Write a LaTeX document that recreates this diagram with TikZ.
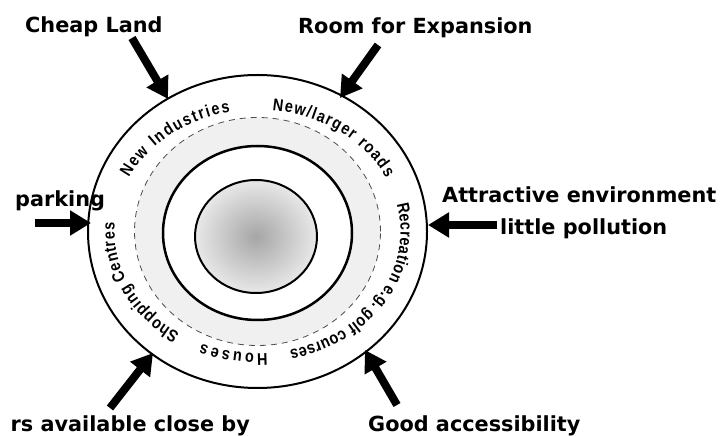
\documentclass[tikz,border=0pt]{standalone}
\usepackage{fontspec}
\setmainfont{DejaVu Sans}
\newfontfamily\ringfont{Liberation Sans}[FakeStretch=0.85]
\newcommand\ringsize{\ringfont\bfseries\fontsize{17}{19}\selectfont}
\usetikzlibrary{arrows.meta,decorations.text}
\begin{document}
\begin{tikzpicture}[x=1pt,y=1pt,
  lbl/.style={font=\fontsize{20.8}{24}\selectfont\bfseries, inner sep=0pt},
  bigarrow/.style={line width=8pt, -{Triangle[length=21pt,width=24pt]}},
  ringtext/.style={font=\ringsize,
     decorate, decoration={text along path, text align=fit to path,
     text={|\ringsize|#1}}}
]
\fill[white] (0,0) rectangle (720,436);
\useasboundingbox (0,0) rectangle (720,436);

\coordinate (C) at (257.5,204.5);
\coordinate (Cm) at (257.5,203);
\coordinate (Ci) at (256,199.5);

% light grey ring between dashed ring and middle ring
\fill[gray!12, even odd rule] (C) ellipse[x radius=123, y radius=114]
      (Cm) ellipse[x radius=94.5, y radius=87];
% dashed ring
\draw[line width=0.8pt, dash pattern=on 6pt off 5pt, gray!60!black] (C) ellipse[x radius=123, y radius=114];
% outer ring
\draw[line width=2pt] (C) ellipse[x radius=169.5, y radius=156.5];
% middle ring
\draw[line width=2.5pt] (Cm) ellipse[x radius=94.5, y radius=87];
% centre
\shade[inner color=gray!70, outer color=gray!18] (Ci) ellipse[x radius=61, y radius=56.5];
\draw[line width=2pt] (Ci) ellipse[x radius=61, y radius=56.5];

% ring labels
\path[ringtext={New Industries}] (C) ++(154:143 and 122)
   arc[start angle=154, end angle=101, x radius=143, y radius=122];
\path[ringtext={New/larger roads}] (C) ++(84:143 and 122)
   arc[start angle=84, end angle=26, x radius=143, y radius=122];
\path[ringtext={Recreation e.g. golf courses}] (C) ++(13:143 and 122)
   arc[start angle=13, end angle=-77, x radius=143, y radius=122];
\path[ringtext={Houses}] (C) ++(-86:143 and 122)
   arc[start angle=-86, end angle=-113, x radius=143, y radius=122];
\path[ringtext={Shopping Centres}] (C) ++(237:143 and 122)
   arc[start angle=237, end angle=176, x radius=143, y radius=122];

% outer labels
\node[lbl, anchor=base west] (cheap) at (25,403) {Cheap Land};
\node[lbl, anchor=base west] (room) at (298,402) {Room for Expansion};
\node[lbl, anchor=base west] (parking) at (15,229) {parking};
\node[lbl, anchor=base west] (attract) at (442,233) {Attractive environment};
\node[lbl, anchor=base west] (pollution) at (500,201) {little pollution};
\node[lbl, anchor=base west] (access) at (368,4) {Good accessibility};
\node[lbl, anchor=base east] (avail) at (250,4) {rs available close by};

% arrow ends
\coordinate (cheapT) at (132,398);  \coordinate (cheapH) at (168,337);
\coordinate (roomT) at (378,391);   \coordinate (roomH) at (340,338);
\coordinate (parkT) at (35,213);    \coordinate (parkH) at (91,213);
\coordinate (attrT) at (497,211);   \coordinate (attrH) at (428,211);
\coordinate (accT) at (397,31);     \coordinate (accH) at (365,86);
\coordinate (avT) at (110,28);      \coordinate (avH) at (153,83);

\draw[bigarrow] (cheapT) -- (cheapH);
\draw[bigarrow] (roomT) -- (roomH);
\draw[bigarrow] (parkT) -- (parkH);
\draw[bigarrow] (attrT) -- (attrH);
\draw[bigarrow] (accT) -- (accH);
\draw[bigarrow] (avT) -- (avH);
\end{tikzpicture}
\end{document}
